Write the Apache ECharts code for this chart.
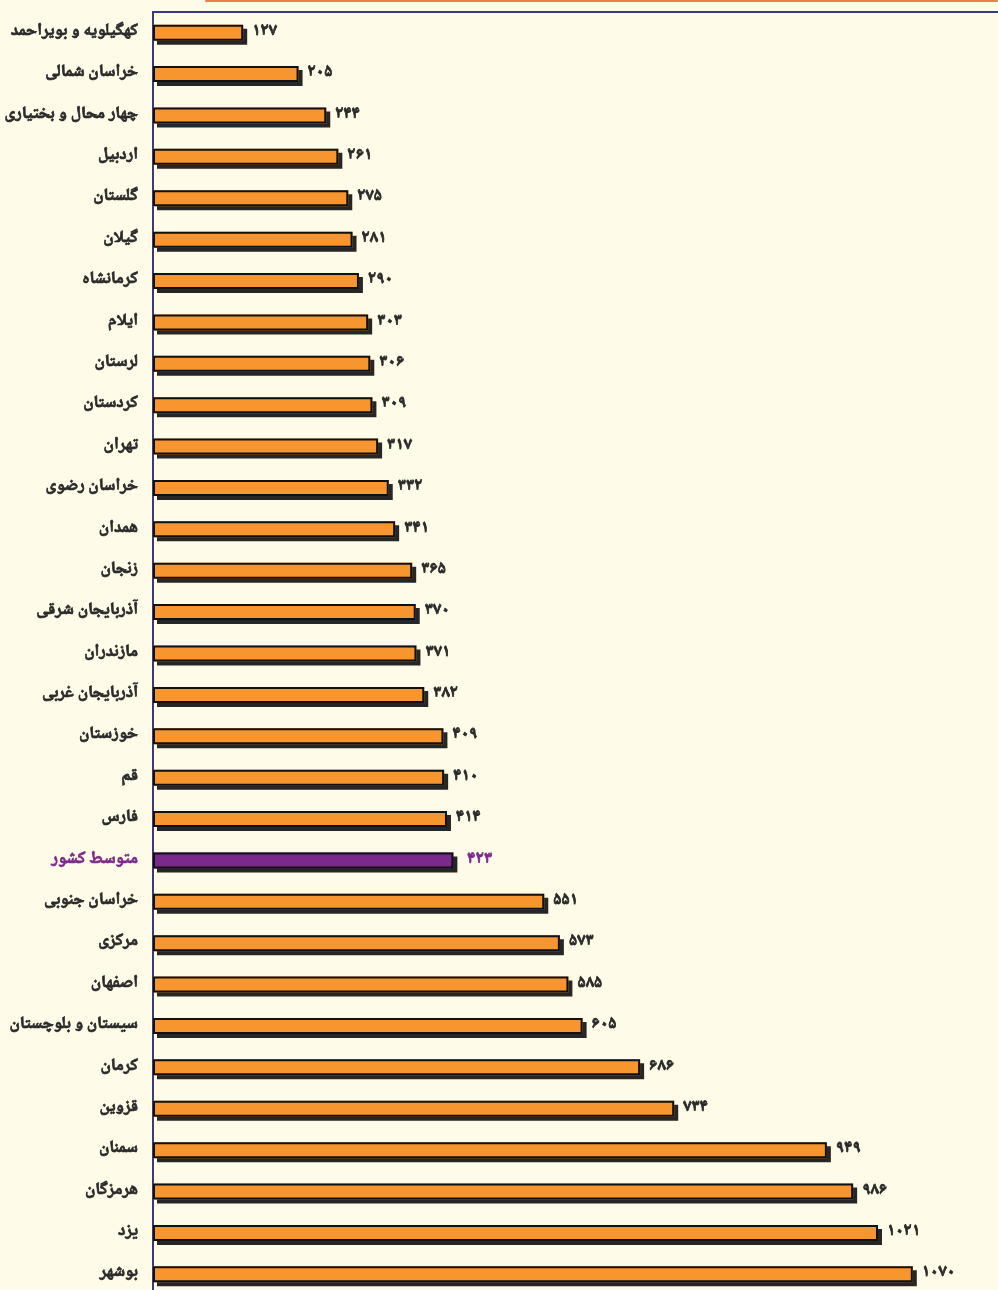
<!DOCTYPE html>
<html lang="fa">
<head>
    <meta charset="utf-8">
    <title>نمودار استان‌ها</title>
    <script src="https://cdn.jsdelivr.net/npm/echarts@6.0.0/dist/echarts.min.js"></script>
    <style>
        html, body {
            margin: 0;
            padding: 0;
            background: #fefce9;
        }

        #chart {
            width: 998px;
            height: 1290px;
        }
    </style>
</head>
<body>
<div id="chart"></div>
<script>
    // استان‌ها از بالا به پایین
    const provinces = [
        'کهگیلویه و بویراحمد', 'خراسان شمالی', 'چهار محال و بختیاری', 'اردبیل', 'گلستان',
        'گیلان', 'کرمانشاه', 'ایلام', 'لرستان', 'کردستان', 'تهران', 'خراسان رضوی', 'همدان',
        'زنجان', 'آذربایجان شرقی', 'مازندران', 'آذربایجان غربی', 'خوزستان', 'قم', 'فارس',
        'متوسط کشور', 'خراسان جنوبی', 'مرکزی', 'اصفهان', 'سیستان و بلوچستان', 'کرمان',
        'قزوین', 'سمنان', 'هرمزگان', 'یزد', 'بوشهر'
    ];
    const values = [
        127, 205, 244, 261, 275, 281, 290, 303, 306, 309, 317, 332, 341, 365, 370, 371,
        382, 409, 410, 414, 423, 551, 573, 585, 605, 686, 734, 949, 986, 1021, 1070
    ];
    const averageName = 'متوسط کشور';

    const faDigits = ['۰', '۱', '۲', '۳', '۴', '۵', '۶', '۷', '۸', '۹'];

    function toFa(n) {
        return String(n).replace(/[0-9]/g, function (d) {
            return faDigits[+d];
        });
    }

    const ORANGE = '#f7962e';
    const PURPLE = '#7b2a8c';
    const TEXT = '#2a2a2a';
    const FONT = '"Noto Naskh Arabic", "Noto Sans Arabic", "DejaVu Sans", sans-serif';

    function isAvg(i) {
        return provinces[i] === averageName;
    }

    // سری زیرین: رنگ میله و سایه
    const fillData = values.map(function (v, i) {
        return {value: v, itemStyle: {color: isAvg(i) ? PURPLE : ORANGE}};
    });
    // سری رویی: فقط قاب مشکی و برچسب عدد
    const frameData = values.map(function (v, i) {
        return {
            value: v,
            label: isAvg(i) ? {color: PURPLE, textBorderColor: PURPLE, distance: 14} : undefined
        };
    });

    const labelStyle = {
        fontFamily: FONT,
        fontSize: 17,
        fontWeight: 'bold',
        textBorderWidth: 0.7
    };

    const chart = echarts.init(document.getElementById('chart'), null, {renderer: 'canvas'});
    chart.setOption({
        backgroundColor: '#fefce9',
        animation: false,
        grid: {
            left: 153,
            right: 0,
            top: 12,
            height: 1283,
            containLabel: false,
            outerBoundsMode: 'none'
        },
        xAxis: {
            type: 'value',
            position: 'top',
            min: 0,
            max: 1190,
            axisLine: {show: true, lineStyle: {color: '#3b3a7a', width: 2}},
            axisTick: {show: false},
            axisLabel: {show: false},
            splitLine: {show: false}
        },
        yAxis: {
            type: 'category',
            inverse: true,
            data: provinces,
            axisLine: {show: true, lineStyle: {color: '#3b3a7a', width: 2}},
            axisTick: {show: false},
            axisLabel: {
                margin: 15,
                formatter: function (val) {
                    return (val === averageName ? '{avg|' : '{name|') + val + '}';
                },
                rich: {
                    name: Object.assign({color: TEXT, textBorderColor: TEXT}, labelStyle),
                    avg: Object.assign({color: PURPLE, textBorderColor: PURPLE}, labelStyle)
                }
            }
        },
        series: [{
            type: 'bar',
            data: fillData,
            barWidth: 16,
            itemStyle: {
                shadowColor: '#262626',
                shadowBlur: 0,
                shadowOffsetX: 4,
                shadowOffsetY: 4
            },
            silent: true
        }, {
            type: 'bar',
            data: frameData,
            barWidth: 16,
            barGap: '-100%',
            itemStyle: {
                color: 'rgba(0,0,0,0)',
                borderColor: '#111111',
                borderWidth: 2
            },
            label: {
                show: true,
                position: 'right',
                distance: 9,
                fontFamily: FONT,
                fontSize: 17,
                fontWeight: 'bold',
                color: TEXT,
                textBorderColor: TEXT,
                textBorderWidth: 0.8,
                formatter: function (p) {
                    return toFa(p.value);
                }
            }
        }],
        graphic: [{
            type: 'rect',
            left: 205,
            top: 0,
            shape: {width: 793, height: 2, r: 1},
            style: {fill: '#ec7f45'}
        }]
    });
</script>
</body>
</html>
